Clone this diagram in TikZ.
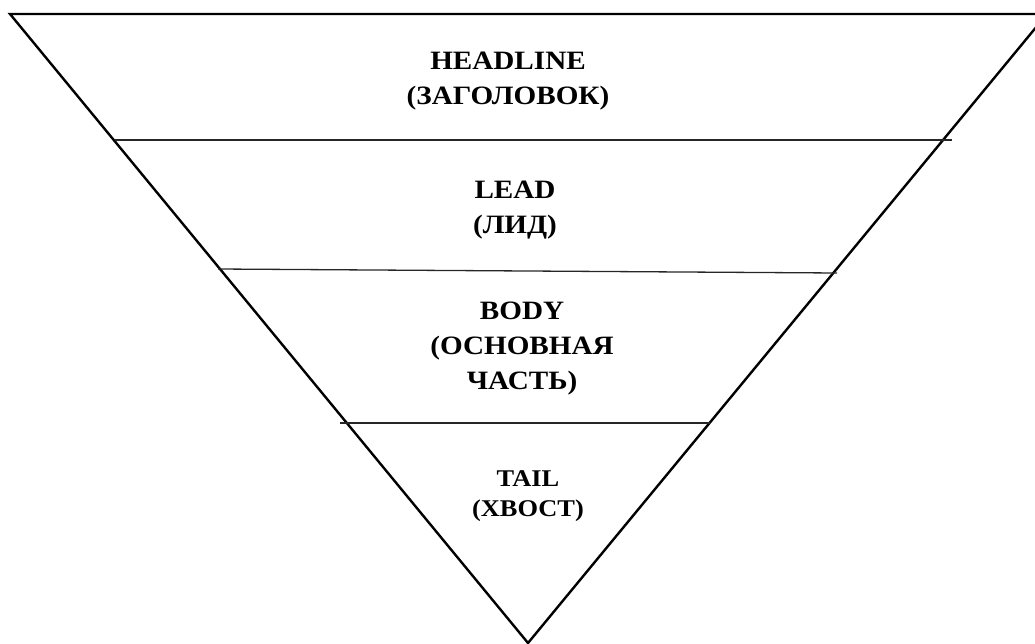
\documentclass[tikz,border=0pt]{standalone}
\usepackage{fontspec}
\setmainfont{Liberation Serif}[FakeStretch=1.1]
\usepackage{tikz}
\usetikzlibrary{calc}

\tikzset{
  layertext/.style={font=\bfseries\fontsize{26.5}{35}\selectfont, align=center, anchor=north, inner sep=0pt},
  tailtext/.style={layertext, font=\bfseries\fontsize{24}{30}\selectfont},
  divider/.style={line width=1.3pt, black!85}
}

\begin{document}
\begin{tikzpicture}[x=1pt,y=-1pt]
\clip (0,0) rectangle (1035,644);

% Inverted pyramid
\coordinate (topleft) at (10,14);
\coordinate (topright) at (1047,14);
\coordinate (apex) at (528,643);
\draw[line width=2.4pt, miter limit=20] (topleft) -- (topright) -- (apex) -- cycle;

% Layer borders
\draw[divider] (115,140) -- (952,140);
\draw[divider] (218,269) -- (837,273);
\draw[divider] (340,423) -- (710,423);

% Layer names
\node[layertext] (headline) at (508,52) {HEADLINE\\(ЗАГОЛОВОК)};
\node[layertext] (lead) at (515,181) {LEAD\\(ЛИД)};
\node[layertext] (body) at (522,302) {BODY\\(ОСНОВНАЯ\\ЧАСТЬ)};
\node[tailtext] (tail) at (528,470) {TAIL\\(ХВОСТ)};
\end{tikzpicture}
\end{document}
